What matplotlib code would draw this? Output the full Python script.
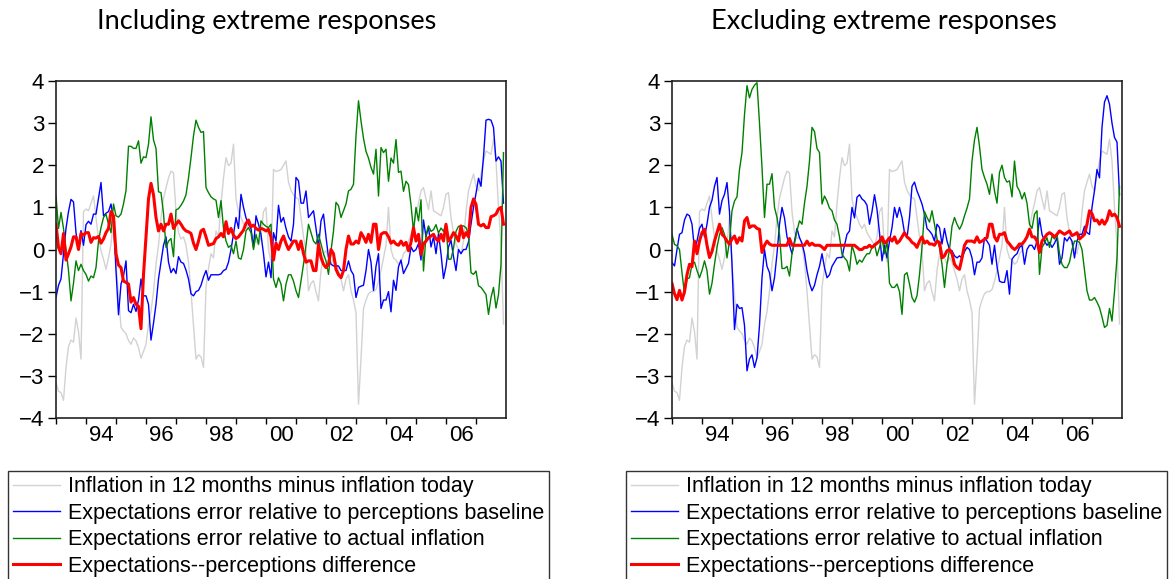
import numpy as np
import matplotlib
matplotlib.use("Agg")
import matplotlib.pyplot as plt
from matplotlib.ticker import FixedLocator, NullFormatter, FixedFormatter

# monthly data, 1993:01 - 2007:12
infl_change = [
    -3.16, -3.36, -3.4, -3.58, -2.8, -2.3, -2.15, -2.2, -1.63, -1.95, -2.6, 0.9,
    0.96, 0.92, 1.1, 1.27, 0.75, 0.27, -0.03, -0.23, -0.47, -0.2, 0.13, 0.75,
    -0.35, -1.07, -1.85, -1.93, -2.0, -2.16, -2.25, -2.1, -2.17, -2.33, -2.58, -2.42,
    -2.25, -1.78, -1.47, -1.0, -0.35, 0.1, 0.75, 1.22, 1.46, 1.7, 1.86, 1.82,
    0.9, 0.4, 0.25, 0.3, 0.1, -0.3, -1.0, -1.8, -2.6, -2.5, -2.55, -2.8,
    -0.9, -0.45, -0.1, -0.2, 0.44, 0.3, 1.08, 1.7, 2.18, 1.99, 2.05, 2.5,
    1.2, 0.9, 0.76, 0.6, 0.5, 0.6, 0.4, 0.3, 0.2, 0.1, 0.3, 0.9,
    1.0, 0.0, -0.3, 1.9, 1.85, 1.87, 1.9, 2.0, 2.1, 1.6, 1.4, 1.3,
    1.23, 1.2, 0.76, 0.3, -0.03, -0.98, -0.8, -0.74, -1.0, -1.22, -0.5, -0.1,
    -0.03, -0.2, -0.35, -0.19, -0.3, -0.5, -0.7, -0.98, -0.7, -0.6, -0.98, -1.2,
    -1.5, -3.67, -2.6, -1.4, -1.2, -1.05, -1.0, -1.0, -0.95, -0.75, -0.5, -0.2,
    0.1, 1.0, 0.0, -0.2, -0.25, -0.35, -0.3, -0.1, -0.03, 0.2, 0.36, 0.5,
    0.84, 1.1, 1.39, 1.47, 1.2, 0.95, 1.39, 0.92, 0.88, 0.84, 0.8, 1.0,
    1.31, 1.35, 0.76, 0.4, 0.12, 0.0, -0.1, 0.2, 0.9, 1.39, 1.6, 1.79,
    1.5, 1.39, 1.79, 2.1, 2.34, 2.3, 2.26, 2.62, 2.1, 1.0, 0.1, -1.77,
]

# including extreme responses
blue_incl = [
    -1.14, -0.85, -0.7, -0.1, 0.5, 0.9, 1.19, 1.13, 0.4, 0.0, 0.45, 0.1,
    0.59, 0.67, 0.6, 0.84, 0.84, 1.22, 1.59, 0.8, 0.86, 0.9, 1.08, 0.7,
    -0.5, -1.55, -0.82, -0.63, -0.27, -1.45, -1.5, -1.3, -1.47, -1.2, -0.7, -1.1,
    -1.1, -1.3, -2.15, -1.75, -1.3, -0.7, -0.3, 0.1, 0.3, -0.3, -0.55, -0.45,
    -0.57, -0.17, -0.3, -0.33, -0.49, -0.7, -1.05, -1.1, -1.0, -0.97, -0.85, -0.65,
    -0.5, -0.73, -0.6, -0.6, -0.6, -0.6, -0.58, -0.5, -0.47, -0.3, 0.0, 0.36,
    0.76, 0.5, 1.31, 1.0, 0.75, 0.6, 0.5, 0.05, 0.8, 0.6, 0.35, -0.1,
    -0.65, -0.3, -0.67, 0.4, 0.2, 1.05, 0.65, 0.76, 0.5, 0.3, 0.2, 0.6,
    1.71, 1.63, 1.1, 1.1, 1.39, 0.76, 0.84, 0.92, 0.5, 0.05, 0.68, 0.84,
    0.3, -0.19, -0.35, -0.39, -0.39, -0.39, -0.5, -0.5, -0.5, -0.27, -0.5, -0.6,
    -1.14, -0.9, -0.87, -0.85, -0.5, 0.0, -0.3, -0.97, -0.4, -0.1, -1.4, -1.2,
    -1.2, -1.0, -1.48, -0.73, -0.97, -0.41, -0.25, -0.57, -0.45, -0.33, 0.06, -0.05,
    0.0, 0.14, -0.25, 0.7, 0.3, 0.54, 0.06, 0.3, -0.1, 0.38, -0.1, -0.69,
    -0.4, 0.06, 0.22, -0.17, -0.5, 0.0, -0.1, 0.0, 0.0, 0.18, 0.6, 1.0,
    1.33, 1.69, 1.5, 2.2, 3.07, 3.09, 3.07, 2.9, 2.1, 2.2, 2.1, 1.1,
]
green_incl = [
    1.27, 0.5, 0.88, 0.5, 0.0, -0.5, -1.22, -0.8, -0.27, -0.5, -0.35, -0.5,
    -0.59, -0.75, -0.63, -0.67, -0.43, 0.2, 0.52, 0.76, 0.84, 0.6, 0.4, 1.08,
    0.8, 0.77, 0.84, 1.08, 1.4, 2.45, 2.45, 2.4, 2.4, 2.58, 2.05, 2.2,
    2.18, 2.5, 3.15, 2.6, 2.4, 1.37, 1.35, 0.86, 0.05, 0.2, 0.26, -0.17,
    0.94, 0.97, 1.05, 1.15, 1.3, 1.7, 2.18, 2.7, 3.07, 2.9, 2.78, 2.8,
    1.47, 1.35, 1.25, 1.2, 1.17, 0.76, 1.16, 0.5, 0.2, 0.05, 0.1, -0.1,
    0.2, -0.2, -0.23, 0.0, 0.44, 0.52, 0.4, 0.0, 0.36, 0.13, 0.68, 0.6,
    0.55, 0.52, 0.6, -0.7, -0.9, -0.67, -0.82, -1.22, -0.82, -0.6, -0.6, -0.75,
    -0.98, -1.14, -0.74, -0.35, 0.1, 0.6, 0.4, 0.2, 0.13, 0.36, 0.13, -0.1,
    -0.27, -0.59, -0.03, 0.44, 1.12, 1.04, 0.76, 0.92, 1.08, 1.39, 1.43, 1.55,
    2.7, 3.53, 3.05, 2.64, 2.33, 2.17, 1.95, 1.79, 2.38, 1.27, 2.42, 2.3,
    2.38, 1.62, 2.17, 2.05, 2.61, 1.83, 1.86, 1.38, 1.62, 1.54, 1.06, 0.43,
    1.0, 0.68, 1.18, -0.51, 0.35, 0.56, 0.43, 0.47, 0.59, 0.39, 0.51, 0.43,
    0.6, -0.23, -0.23, 0.03, 0.43, 0.55, 0.56, 0.56, 0.52, 0.36, -0.55, -0.59,
    -0.51, -0.86, -0.9, -0.98, -1.07, -1.54, -1.14, -0.9, -1.39, -1.07, -0.35, 2.3,
]
red_incl = [
    0.6, 0.05, -0.1, 0.38, -0.25, -0.1, 0.06, 0.3, 0.3, 0.0, 0.38, 0.34,
    0.4, 0.4, 0.17, 0.28, 0.27, 0.31, 0.15, 0.25, 0.4, 0.5, 0.9, 0.8,
    -0.1, -0.37, -0.43, -0.75, -0.78, -0.82, -1.25, -1.14, -1.3, -1.35, -1.88, -0.6,
    0.3, 1.2, 1.57, 1.3, 0.76, 0.44, 0.6, 0.44, 0.6, 0.6, 0.84, 0.5,
    0.6, 0.68, 0.6, 0.5, 0.44, 0.42, 0.38, 0.15, 0.0, 0.2, 0.44, 0.48,
    0.3, 0.1, 0.12, 0.14, 0.26, 0.3, 0.38, 0.3, 0.66, 0.38, 0.5, 0.34,
    0.26, 0.3, 0.38, 0.46, 0.62, 0.7, 0.54, 0.58, 0.5, 0.46, 0.5, 0.48,
    0.44, 0.48, 0.3, -0.25, 0.15, 0.0, 0.2, 0.32, 0.14, 0.0, 0.1, 0.2,
    0.2, 0.0, 0.2, -0.1, -0.3, -0.27, -0.27, -0.5, -0.5, 0.13, -0.19, -0.35,
    -0.43, -0.35, 0.0, -0.1, -0.47, -0.6, -0.67, -0.5, 0.0, 0.32, 0.13, 0.13,
    0.2, 0.15, 0.4, 0.3, 0.17, 0.36, 0.17, 0.6, 0.6, 0.0, 0.36, 0.4,
    0.4, 0.3, 0.15, 0.2, 0.13, 0.1, 0.2, 0.1, 0.17, -0.03, 0.17, 0.52,
    0.2, 0.36, -0.11, 0.13, 0.2, 0.28, 0.32, 0.36, 0.25, 0.2, 0.36, 0.2,
    0.6, 0.2, 0.28, 0.4, 0.32, 0.2, 0.56, 0.28, 0.4, 0.3, 1.0, 1.2,
    1.07, 0.6, 0.56, 0.6, 0.52, 0.52, 0.78, 0.8, 0.84, 0.96, 1.0, 0.6,
]

# excluding extreme responses
blue_excl = [
    -0.31, -0.39, 0.0, 0.36, 0.4, 0.7, 0.84, 0.8, 0.6, 0.0, 0.2, 0.5,
    0.6, 0.3, 0.6, 1.0, 1.17, 1.5, 1.71, 0.84, 1.16, 1.31, 1.59, 0.9,
    -0.35, -1.9, -1.3, -1.4, -1.38, -1.8, -2.88, -2.6, -2.5, -2.8, -2.57, -1.8,
    -0.67, 0.0, -0.4, -0.55, -0.98, -0.67, -0.1, 0.6, 1.0, 0.75, 0.3, 0.1,
    -0.1, 0.2, 0.5, 0.28, 0.15, -0.1, -0.5, -0.8, -0.98, -0.85, -0.6, -0.4,
    -0.1, -0.43, -0.67, -0.6, -0.4, -0.3, -0.2, -0.19, -0.19, 0.1, 0.36, 0.44,
    1.0, 0.75, 1.24, 1.3, 1.2, 1.15, 1.05, 0.6, 0.9, 1.3, 0.95, 0.4,
    -0.27, 0.1, -0.2, 0.2, 0.52, 1.0, 0.76, 1.0, 0.76, 0.4, 0.28, 0.76,
    1.5, 1.6, 1.39, 1.24, 1.08, 0.84, 0.5, 0.44, 0.36, 0.2, 0.6, 0.52,
    0.13, 0.5, 0.2, 0.0, -0.03, -0.15, -0.2, -0.15, -0.2, -0.05, 0.05, 0.0,
    -0.2, -0.6, -0.3, -0.3, -0.2, 0.28, 0.2, 0.1, -0.35, 0.1, -0.4, -0.75,
    -0.78, -0.78, -0.5, -1.06, -0.23, -0.15, -0.1, 0.05, 0.1, -0.35, 0.0, 0.1,
    0.1, 0.0, 0.2, 0.75, 0.36, 0.2, 0.1, 0.17, 0.05, 0.15, 0.28, -0.35,
    -0.2, 0.28, 0.2, 0.3, 0.2, -0.2, 0.2, 0.36, 0.36, 0.55, 0.4, 0.36,
    1.0, 1.4, 1.9, 1.7, 2.9, 3.5, 3.65, 3.45, 3.0, 2.66, 2.55, 1.3,
]
green_excl = [
    0.36, 0.12, 0.09, 0.0, -0.55, -1.06, -0.7, -0.67, -0.35, -0.3, -0.5, -0.67,
    -0.5, -0.27, -0.5, -1.06, -0.8, -0.35, 0.05, 0.35, 0.52, 0.36, -0.2, 0.2,
    0.92, 1.15, 1.25, 1.9, 2.3, 3.2, 3.89, 3.6, 3.8, 3.9, 3.96, 3.0,
    1.95, 0.76, 1.55, 1.55, 1.8, 1.0, 0.76, 0.36, -0.45, -0.45, -0.4, -0.63,
    -0.1, 0.15, 0.45, 0.68, 0.6, 1.1, 1.5, 2.1, 2.9, 2.8, 2.4, 2.3,
    1.08, 1.27, 1.15, 0.98, 0.92, 0.7, 0.6, 0.3, -0.11, -0.2, -0.27, -0.51,
    0.1, -0.1, -0.35, -0.25, -0.3, -0.19, -0.1, -0.1, 0.05, 0.13, -0.15, 0.05,
    0.28, -0.1, 0.2, -0.8, -0.9, -0.9, -0.82, -1.0, -1.54, -0.6, -0.55, -0.82,
    -1.14, -1.25, -1.1, -0.6, 0.05, 0.9, 0.76, 0.65, 0.92, 0.6, 0.25, 0.05,
    -0.35, -0.9, -0.35, 0.0, 0.55, 0.76, 0.6, 0.48, 0.6, 0.8, 0.98, 1.2,
    2.1, 2.6, 2.9, 2.45, 1.9, 1.71, 1.55, 1.31, 1.79, 1.39, 1.1, 1.83,
    2.0, 1.71, 1.6, 1.63, 1.25, 2.1, 1.5, 1.39, 1.2, 1.35, 1.1, 0.6,
    0.5, 0.84, 0.92, -0.59, 0.05, 0.15, 0.28, 0.05, 0.32, 0.25, 0.36, -0.1,
    -0.35, -0.43, -0.43, -0.3, 0.0, 0.2, 0.2, 0.17, 0.0, -0.5, -0.98, -1.2,
    -1.2, -1.14, -1.25, -1.38, -1.6, -1.85, -1.8, -1.4, -1.7, -1.0, -0.2, 1.5,
]
red_excl = [
    -0.81, -1.05, -1.19, -0.97, -1.2, -1.0, -0.6, -0.35, -0.41, 0.2, -0.1, 0.2,
    0.4, 0.48, 0.1, -0.19, -0.05, 0.2, 0.4, 0.6, 0.36, 0.3, 0.2, 0.13,
    0.25, 0.32, 0.15, 0.28, 0.2, 0.68, 0.76, 0.52, 0.56, 0.56, 0.5, 0.48,
    -0.07, 0.1, 0.2, 0.13, 0.1, 0.1, 0.1, 0.1, 0.1, 0.1, 0.1, 0.26,
    0.1, 0.1, 0.1, 0.1, 0.1, 0.1, 0.2, 0.1, 0.15, 0.1, 0.1, 0.1,
    0.06, 0.0, 0.1, 0.1, 0.1, 0.1, 0.1, 0.1, 0.1, 0.1, 0.1, 0.1,
    0.1, 0.1, 0.05, 0.0, 0.0, 0.05, 0.05, 0.1, 0.05, 0.1, 0.15, 0.2,
    0.3, 0.15, 0.2, 0.28, 0.2, 0.3, 0.15, 0.2, 0.3, 0.4, 0.3, 0.25,
    0.17, 0.13, 0.05, 0.2, 0.3, 0.15, 0.2, 0.13, 0.13, 0.1, 0.2, 0.17,
    -0.2, -0.15, -0.03, 0.0, -0.1, -0.35, -0.43, -0.47, -0.2, 0.1, 0.2, 0.2,
    0.2, 0.17, 0.3, 0.17, 0.2, 0.24, 0.28, 0.6, 0.6, 0.3, 0.2, 0.36,
    0.36, 0.4, 0.2, 0.13, 0.05, 0.0, 0.05, 0.13, 0.13, 0.2, 0.3, 0.48,
    0.3, 0.3, 0.2, -0.07, 0.2, 0.28, 0.36, 0.4, 0.36, 0.3, 0.36, 0.44,
    0.4, 0.36, 0.4, 0.44, 0.33, 0.36, 0.4, 0.25, 0.3, 0.36, 0.6, 0.92,
    0.85, 0.68, 0.7, 0.6, 0.7, 0.6, 0.7, 0.92, 0.8, 0.84, 0.76, 0.55,
]

titles = ["Including extreme responses", "Excluding extreme responses"]
labels = [
    "Inflation in 12 months minus inflation today",
    "Expectations error relative to perceptions baseline",
    "Expectations error relative to actual inflation",
    "Expectations--perceptions difference",
]
year_labels = ["94", "96", "98", "00", "02", "04", "06"]

plt.rcParams["font.family"] = ["Liberation Sans", "DejaVu Sans"]

W, H = 1174, 579
fig = plt.figure(figsize=(W / 100, H / 100), dpi=100)

months = 1993 + np.arange(len(infl_change)) / 12.0

panels = [
    (56, 267, 8, blue_incl, green_incl, red_incl),
    (672, 884, 626, blue_excl, green_excl, red_excl),
]

for i, (left_px, title_px, leg_px, blue, green, red) in enumerate(panels):
    ax = fig.add_axes([left_px / W, (H - 418) / H, 450 / W, 337 / H])
    ax.plot(months, infl_change, color="#d2d2d2", lw=1.0, label=labels[0])
    ax.plot(months, blue, color="#0000ff", lw=1.0, label=labels[1])
    ax.plot(months, green, color="#008000", lw=1.0, label=labels[2])
    ax.plot(months, red, color="#ff0000", lw=2.2, label=labels[3])

    ax.set_xlim(1993, 2008)
    ax.set_ylim(-4, 4)
    ax.set_yticks(range(-4, 5))
    ax.tick_params(axis="y", direction="out", length=5.5, width=1, labelsize=16, pad=3)

    # year ticks on boundaries, labels in the middle of every second year
    ax.xaxis.set_major_locator(FixedLocator(np.arange(1993, 2008)))
    ax.xaxis.set_major_formatter(NullFormatter())
    ax.xaxis.set_minor_locator(FixedLocator(np.arange(1994.5, 2007, 2)))
    ax.xaxis.set_minor_formatter(FixedFormatter(year_labels))
    ax.tick_params(axis="x", which="major", direction="out", length=4, width=1)
    ax.tick_params(axis="x", which="minor", length=0, labelsize=16, pad=5)

    for sp in ax.spines.values():
        sp.set_linewidth(1.2)
        sp.set_color("#222222")

    fig.text(title_px / W, 1 - 22 / H, titles[i], ha="center", va="center",
             fontsize=19.5, family=["Lato", "DejaVu Sans"])

    ax.legend(loc="upper left", bbox_to_anchor=(leg_px / W, 1 - 471 / H),
              bbox_transform=fig.transFigure, fontsize=15.5, frameon=True,
              fancybox=False, edgecolor="#333333", framealpha=1,
              handlelength=2.15, handletextpad=0.37, labelspacing=0.25,
              borderpad=0.25, borderaxespad=0)

fig.savefig("out.png", dpi=100)
